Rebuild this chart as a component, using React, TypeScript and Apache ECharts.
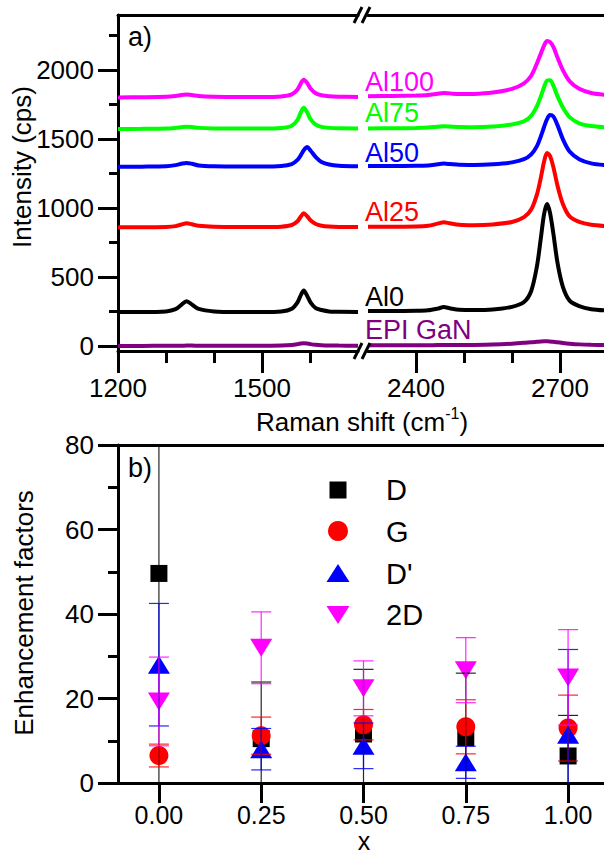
import React, { useEffect, useRef } from 'react';
import * as echarts from 'echarts';

// ---------- Panel a: Raman spectra (broken x axis) ----------
const shiftLeft = [1200, 1250, 1300, 1320, 1332, 1343, 1354, 1368, 1400, 1450, 1500, 1540, 1562, 1574, 1581, 1587, 1594, 1601, 1612, 1624, 1640, 1660, 1700];
const shiftRight = [2300, 2350, 2400, 2425, 2445, 2458, 2470, 2490, 2520, 2560, 2600, 2625, 2640, 2652, 2660, 2667, 2673, 2679, 2686, 2695, 2706, 2720, 2740, 2765, 2800];

const epiLeft = [2, 2, 3, 3, 3, 4, 4, 3, 3, 3, 3, 5, 9, 15, 20, 22, 20, 15, 10, 7, 5, 4, 3];
const epiRight = [6, 6, 7, 7, 8, 8, 8, 8, 9, 12, 18, 24, 29, 32, 34, 35, 35, 34, 32, 28, 23, 18, 13, 10, 8];
const al0Left = [247, 247, 252, 268, 300, 326, 302, 270, 252, 248, 248, 252, 272, 318, 370, 403, 365, 318, 275, 262, 252, 249, 248];
const al0Right = [254, 254, 256, 260, 272, 283, 275, 264, 262, 266, 285, 320, 400, 580, 780, 960, 1030, 970, 820, 600, 430, 330, 290, 268, 258];
const al25Left = [862, 862, 864, 870, 882, 891, 883, 872, 865, 863, 863, 866, 878, 905, 940, 963, 942, 912, 885, 873, 867, 864, 863];
const al25Right = [866, 866, 868, 873, 888, 898, 891, 880, 877, 882, 900, 935, 990, 1100, 1220, 1340, 1400, 1380, 1300, 1160, 1030, 940, 900, 880, 870];
const al50Left = [1300, 1301, 1304, 1312, 1322, 1328, 1322, 1310, 1304, 1302, 1302, 1306, 1320, 1350, 1385, 1420, 1443, 1418, 1370, 1335, 1316, 1308, 1304];
const al50Right = [1305, 1305, 1307, 1310, 1318, 1323, 1320, 1314, 1313, 1318, 1332, 1355, 1390, 1450, 1520, 1590, 1645, 1675, 1665, 1600, 1500, 1410, 1355, 1325, 1310];
const al75Left = [1574, 1575, 1577, 1582, 1587, 1590, 1588, 1582, 1578, 1577, 1577, 1581, 1597, 1640, 1695, 1727, 1695, 1645, 1605, 1589, 1582, 1579, 1578];
const al75Right = [1578, 1579, 1581, 1584, 1590, 1594, 1592, 1588, 1587, 1592, 1607, 1630, 1670, 1740, 1810, 1880, 1925, 1928, 1890, 1810, 1730, 1660, 1615, 1595, 1585];
const al100Left = [1803, 1804, 1807, 1813, 1820, 1823, 1820, 1813, 1808, 1806, 1806, 1810, 1825, 1860, 1905, 1931, 1908, 1868, 1833, 1818, 1811, 1808, 1806];
const al100Right = [1812, 1813, 1816, 1820, 1830, 1835, 1832, 1827, 1828, 1838, 1865, 1905, 1960, 2050, 2120, 2180, 2212, 2205, 2170, 2090, 2000, 1920, 1865, 1835, 1820];

const spectraNames = ['EPI GaN', 'Al0', 'Al25', 'Al50', 'Al75', 'Al100'];
const spectraColors = ['#800080', '#000000', '#ff0000', '#0000ff', '#00ff00', '#ff00ff'];
const spectraLeft = [epiLeft, al0Left, al25Left, al50Left, al75Left, al100Left];
const spectraRight = [epiRight, al0Right, al25Right, al50Right, al75Right, al100Right];

const intensityTicks = [0, 500, 1000, 1500, 2000];
const intensityMinor = [250, 750, 1250, 1750, 2250];
const leftMajor = [1200, 1500];
const leftMinor = [1300, 1400, 1600];
const rightMajor = [2400, 2700];
const rightMinor = [2500, 2600];

// ---------- Panel b: enhancement factors ----------
const xValues = [0, 0.25, 0.5, 0.75, 1.0];
const dValues = [49.6, 10.5, 11.6, 10.7, 6.4];
const dErrors = [52, 13.4, 15.3, 15.3, 9.6];
const gValues = [6.5, 11.2, 13.8, 13.3, 13.0];
const gErrors = [2.7, 4.4, 3.6, 6.4, 7.8];
const dpValues = [28, 8.0, 8.8, 4.9, 11.4];
const dpErrors = [14.5, 4.9, 5.4, 3.8, 20.2];
const twoDValues = [19.3, 32, 22.4, 26.7, 25];
const twoDErrors = [10.5, 8.5, 6.5, 7.7, 11.3];
const xTicks = [0, 0.25, 0.5, 0.75, 1.0];

const FONT = '"Liberation Sans", Arial, Helvetica, sans-serif';
const B_MIN = 0;
const B_MAX = 80;

export default function App() {
  const ref = useRef<HTMLDivElement>(null);

  useEffect(() => {
    if (!ref.current) return;
    const chart = echarts.init(ref.current, undefined, { renderer: 'svg' });
    const axisLine = { show: true, onZero: false, lineStyle: { color: '#000', width: 3 } };
    const noLine = { show: false, onZero: false };
    const tickStyle = { color: '#000', width: 3 };
    const plain = (v: number) => String(v);
    const labelStyle = { color: '#000', fontSize: 26, fontFamily: FONT, formatter: plain };

    const xAxes: any[] = [
      // 0: left major
      { type: 'value', gridIndex: 0, position: 'bottom', min: 1200, max: 1700, axisLine,
        axisTick: { show: true, customValues: leftMajor, length: 22, lineStyle: tickStyle },
        axisLabel: { ...labelStyle, show: true, customValues: leftMajor, margin: 24 }, splitLine: { show: false } },
      // 1: left minor
      { type: 'value', gridIndex: 0, position: 'bottom', min: 1200, max: 1700, axisLine: noLine,
        axisTick: { show: true, customValues: leftMinor, length: 12, lineStyle: tickStyle },
        axisLabel: { show: false }, splitLine: { show: false } },
      // 2: left top frame
      { type: 'value', gridIndex: 0, position: 'top', min: 1200, max: 1700, axisLine,
        axisTick: { show: false }, axisLabel: { show: false }, splitLine: { show: false } },
      // 3: right major
      { type: 'value', gridIndex: 1, position: 'bottom', min: 2300, max: 2800, axisLine,
        axisTick: { show: true, customValues: rightMajor, length: 22, lineStyle: tickStyle },
        axisLabel: { ...labelStyle, show: true, customValues: rightMajor, margin: 24 }, splitLine: { show: false } },
      // 4: right minor
      { type: 'value', gridIndex: 1, position: 'bottom', min: 2300, max: 2800, axisLine: noLine,
        axisTick: { show: true, customValues: rightMinor, length: 12, lineStyle: tickStyle },
        axisLabel: { show: false }, splitLine: { show: false } },
      // 5: right top frame
      { type: 'value', gridIndex: 1, position: 'top', min: 2300, max: 2800, axisLine,
        axisTick: { show: false }, axisLabel: { show: false }, splitLine: { show: false } },
      // 6: panel b x
      { type: 'value', gridIndex: 2, position: 'bottom', min: -0.1, max: 1.1, axisLine,
        axisTick: { show: true, customValues: xTicks, length: 20, lineStyle: tickStyle },
        axisLabel: { ...labelStyle, fontSize: 25, show: true, customValues: xTicks, margin: 19, formatter: (v: number) => v.toFixed(2) },
        splitLine: { show: false } },
      // 7: panel b top frame
      { type: 'value', gridIndex: 2, position: 'top', min: -0.1, max: 1.1, axisLine,
        axisTick: { show: false }, axisLabel: { show: false }, splitLine: { show: false } },
    ];

    const yAxes: any[] = [
      // 0: panel a major
      { type: 'value', gridIndex: 0, position: 'left', min: -35, max: 2400, axisLine,
        axisTick: { show: true, customValues: intensityTicks, length: 20, lineStyle: tickStyle },
        axisLabel: { ...labelStyle, show: true, customValues: intensityTicks, margin: 24 }, splitLine: { show: false } },
      // 1: panel a minor
      { type: 'value', gridIndex: 0, position: 'left', min: -35, max: 2400, axisLine: noLine,
        axisTick: { show: true, customValues: intensityMinor, length: 9, lineStyle: tickStyle },
        axisLabel: { show: false }, splitLine: { show: false } },
      // 2: panel a right segment (hidden)
      { type: 'value', gridIndex: 1, position: 'left', min: -35, max: 2400, axisLine: noLine,
        axisTick: { show: false }, axisLabel: { show: false }, splitLine: { show: false } },
      // 3: panel b
      { type: 'value', gridIndex: 2, position: 'left', min: B_MIN, max: B_MAX, interval: 20, axisLine,
        axisTick: { show: true, length: 20, lineStyle: tickStyle },
        minorTick: { show: true, splitNumber: 2, length: 10, lineStyle: tickStyle },
        axisLabel: { ...labelStyle, show: true, margin: 24 }, splitLine: { show: false } },
    ];

    const series: any[] = [];
    spectraNames.forEach((name, k) => {
      series.push({
        name, type: 'line', xAxisIndex: 0, yAxisIndex: 0, showSymbol: false, smooth: 0.3,
        data: shiftLeft.map((x, i) => [x, spectraLeft[k][i]]),
        lineStyle: { color: spectraColors[k], width: 4 }, itemStyle: { color: spectraColors[k] }, z: 2 + k,
      });
      series.push({
        name, type: 'line', xAxisIndex: 3, yAxisIndex: 2, showSymbol: false, smooth: 0.3,
        data: shiftRight.map((x, i) => [x, spectraRight[k][i]]),
        lineStyle: { color: spectraColors[k], width: 4 }, itemStyle: { color: spectraColors[k] }, z: 2 + k,
      });
    });

    const pointSets = [
      { name: 'D', vals: dValues, errs: dErrors, color: '#000000', symbol: 'rect', size: 17, rotate: 0 },
      { name: 'G', vals: gValues, errs: gErrors, color: '#ff0000', symbol: 'circle', size: 19, rotate: 0 },
      { name: "D'", vals: dpValues, errs: dpErrors, color: '#0000ff', symbol: 'triangle', size: [22, 18], rotate: 0 },
      { name: '2D', vals: twoDValues, errs: twoDErrors, color: '#ff00ff', symbol: 'triangle', size: [22, 18], rotate: 180 },
    ];

    pointSets.forEach((p, k) => {
      series.push({
        name: p.name, type: 'scatter', xAxisIndex: 6, yAxisIndex: 3,
        symbol: p.symbol, symbolSize: p.size, symbolRotate: p.rotate,
        data: xValues.map((x, i) => [x, p.vals[i]]),
        itemStyle: { color: p.color, opacity: 1 }, z: 3 + k,
      });
    });
    pointSets.forEach((p, k) => {
      series.push({
        name: p.name + ' error', type: 'custom', xAxisIndex: 6, yAxisIndex: 3,
        data: xValues.map((x, i) => [x, p.vals[i], p.errs[i]]),
        encode: { x: 0, y: 1 },
        z: 10 + k,
        renderItem: (params: any, api: any) => {
          const x = api.value(0);
          const v = api.value(1);
          const e = api.value(2);
          const hiV = v + e;
          const loV = v - e;
          const hi = api.coord([x, Math.min(hiV, B_MAX)]);
          const lo = api.coord([x, Math.max(loV, B_MIN)]);
          const style = { stroke: p.color, lineWidth: 1.2, opacity: 0.85 };
          const children: any[] = [
            { type: 'line', shape: { x1: lo[0], y1: lo[1], x2: hi[0], y2: hi[1] }, style },
          ];
          if (hiV <= B_MAX) children.push({ type: 'line', shape: { x1: hi[0] - 10, y1: hi[1], x2: hi[0] + 10, y2: hi[1] }, style });
          if (loV >= B_MIN) children.push({ type: 'line', shape: { x1: lo[0] - 10, y1: lo[1], x2: lo[0] + 10, y2: lo[1] }, style });
          return { type: 'group', children };
        },
      });
    });

    const labelY = [330, 297, 212, 153, 113, 82];
    const graphic: any[] = [];
    spectraNames.forEach((n, k) => {
      graphic.push({ type: 'text', x: 365, y: labelY[k], z: 50,
        style: { text: n, fill: spectraColors[k], fontSize: 27, fontFamily: FONT, align: 'left', verticalAlign: 'middle', textAlign: 'left', textVerticalAlign: 'middle' } });
    });
    const txt = (text: string, x: number, y: number, size: number, align = 'center', rotation = 0) => ({
      type: 'text', x, y, rotation, z: 50,
      style: { text, fill: '#000', fontSize: size, fontFamily: FONT, align, verticalAlign: 'middle', textAlign: align, textVerticalAlign: 'middle' },
    });
    graphic.push(txt('a)', 128, 37, 27, 'left'));
    graphic.push(txt('b)', 128, 468, 27, 'left'));
    graphic.push(txt('Intensity (cps)', 22, 167, 26, 'center', Math.PI / 2));
    graphic.push(txt('Enhancement factors', 24, 613, 26, 'center', Math.PI / 2));
    graphic.push(txt('x', 364, 841, 25, 'center'));
    graphic.push({
      type: 'text', x: 362, y: 420, z: 50,
      style: {
        text: '{n|Raman shift (cm}{s|-1}{n|)}', fontFamily: FONT, fill: '#000', align: 'center', verticalAlign: 'middle', textAlign: 'center', textVerticalAlign: 'middle',
        rich: {
          n: { fontSize: 26, fontFamily: FONT, fill: '#000', color: '#000', lineHeight: 30, verticalAlign: 'bottom' },
          s: { fontSize: 16, fontFamily: FONT, fill: '#000', color: '#000', lineHeight: 16, verticalAlign: 'top' },
        },
      },
    });
    // axis break marks
    const slash = (x1: number, y1: number, x2: number, y2: number) => ({
      type: 'line', z: 60, shape: { x1, y1, x2, y2 }, style: { stroke: '#000', lineWidth: 3 },
    });
    graphic.push(slash(354, 23, 362, 7), slash(362, 23, 370, 7));
    graphic.push(slash(354, 359, 362, 343), slash(362, 359, 370, 343));

    // legend panel b
    const lx = 338;
    graphic.push({ type: 'rect', z: 50, shape: { x: lx - 8.5, y: 490 - 8.5, width: 17, height: 17 }, style: { fill: '#000' } });
    graphic.push({ type: 'circle', z: 50, shape: { cx: lx, cy: 531, r: 10 }, style: { fill: '#ff0000' } });
    graphic.push({ type: 'polygon', z: 50, shape: { points: [[lx - 11.5, 582], [lx + 11.5, 582], [lx, 564]] }, style: { fill: '#0000ff' } });
    graphic.push({ type: 'polygon', z: 50, shape: { points: [[lx - 11.5, 606], [lx + 11.5, 606], [lx, 624]] }, style: { fill: '#ff00ff' } });
    const legendNames = ['D', 'G', "D'", '2D'];
    const legendY = [490, 532, 574, 615];
    legendNames.forEach((n, i) => graphic.push(txt(n, 386, legendY[i], 29, 'left')));

    chart.setOption({
      animation: false,
      backgroundColor: '#ffffff',
      grid: [
        { left: 118, top: 15, width: 240, height: 336 },
        { left: 368, top: 15, width: 240, height: 336 },
        { left: 118, top: 445, width: 491, height: 338 },
      ],
      xAxis: xAxes,
      yAxis: yAxes,
      series,
      graphic,
    });
    return () => chart.dispose();
  }, []);

  return (
    <div style={{ position: 'fixed', left: 0, top: 0, width: 604, height: 857, overflow: 'hidden', background: '#fff' }}>
      <div ref={ref} style={{ width: 620, height: 857 }} />
    </div>
  );
}
